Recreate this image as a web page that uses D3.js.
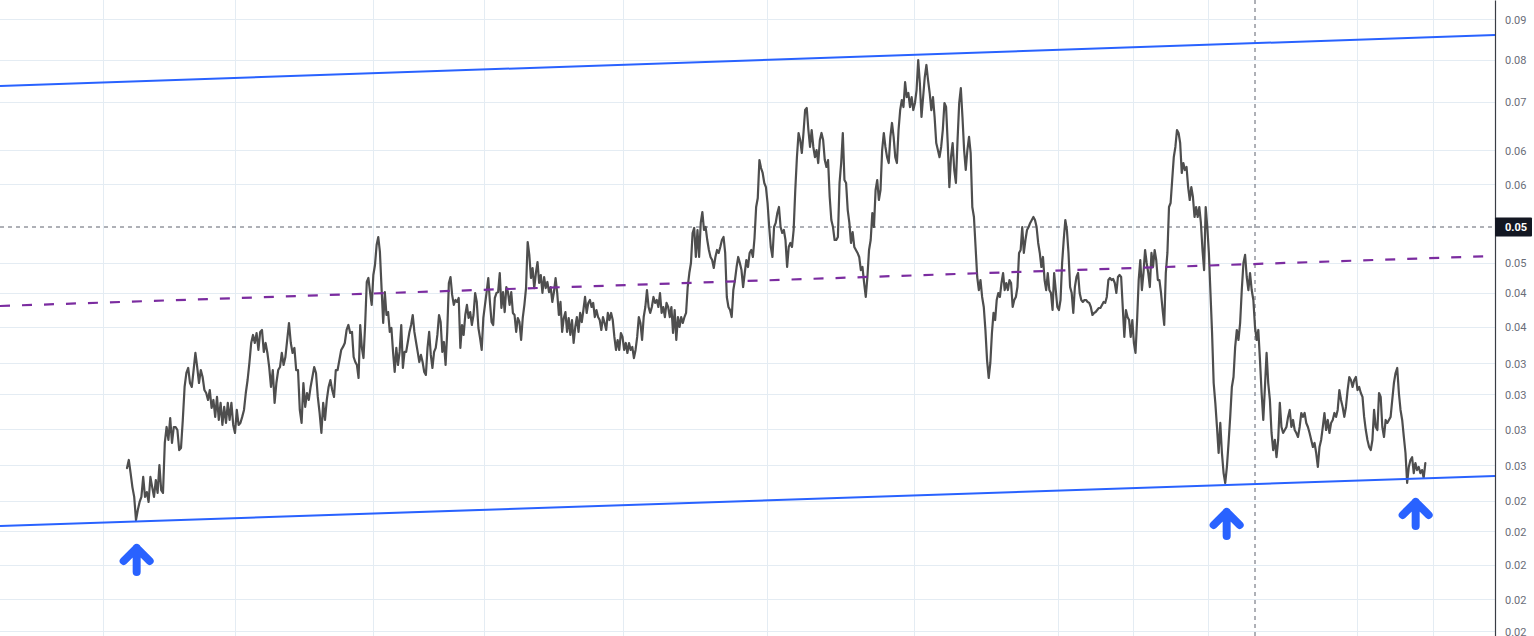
<!DOCTYPE html>
<html><head><meta charset="utf-8">
<script src="https://cdn.jsdelivr.net/npm/d3@7"></script>
<style>html,body{margin:0;padding:0;background:#fff;overflow:hidden}svg{display:block}</style>
</head><body><svg id="c" width="1534" height="636"></svg>
<script>
// ---- price series, split into six periods ----
const prices1 = [0.02583,0.02641,0.02548,0.02452,0.02387,0.02240,0.02303,0.02354,0.02387,0.02521,
0.02387,0.02419,0.02354,0.02521,0.02452,0.02387,0.02500,0.02413,0.02605,0.02432,
0.02413,0.02767,0.02891,0.02790,0.02963,0.02767,0.02891,0.02891,0.02867,0.02714,
0.02729,0.02947,0.03226,0.03352,0.03398,0.03261,0.03226,0.03379,0.03541,0.03407,
0.03261,0.03379,0.03315,0.03199,0.03173,0.03113,0.03199,0.03046,0.03113,0.02972,
0.03139,0.02947,0.03088,0.02907,0.03054,0.02923,0.03088,0.02947,0.03088,0.02907,
0.02844,0.03029,0.02907,0.02923,0.02972,0.03029,0.03173,0.03288,0.03445,0.03639,
0.03720,0.03639,0.03740,0.03570,0.03751,0.03771,0.03551,0.03639,0.03541,0.03407,
0.03226,0.03379,0.03088,0.03261,0.03379,0.03407,0.03541,0.03426,0.03502,0.03669,
0.03844,0.03639,0.03541,0.03590,0.03379,0.03379,0.03029,0.02923,0.03261,0.03054,
0.03173,0.03113,0.03226,0.03315,0.03407,0.03352,0.03139,0.03004,0.02844,0.03088,
0.02947,0.03113,0.03226,0.03288,0.03199,0.03139,0.03379,0.03379,0.03473,0.03570,
0.03600,0.03639,0.03771,0.03823,0.03740];
const prices2 = [0.03751,0.03502,0.03454,0.03426,0.03306,0.03823,0.03590,0.03492,0.03823,0.04301,
0.04348,0.04184,0.04039,0.04384,0.04506,0.04760,0.04865,0.04670,0.04230,0.03844,
0.04184,0.03929,0.03961,0.03751,0.03792,0.03551,0.03361,0.03590,0.03426,0.03551,
0.03823,0.03398,0.03551,0.03551,0.03649,0.03751,0.03823,0.03929,0.03751,0.03649,
0.03551,0.03454,0.03522,0.03454,0.03361,0.03334,0.03590,0.03751,0.03522,0.03398,
0.03551,0.03590,0.03720,0.03929,0.03854,0.03551,0.03649,0.03426,0.03751,0.04289,
0.04360,0.04151,0.04039,0.04094,0.04072,0.04117,0.03590,0.03823,0.03720,0.03929,
0.04039,0.03897,0.03961,0.03823,0.03929,0.04173,0.04072,0.03792,0.03689,0.03570,
0.03897,0.04039,0.04184,0.04348,0.04072,0.03854,0.03823,0.04117,0.04173,0.04184,
0.04408,0.04005,0.04184,0.03961,0.04242,0.04184,0.04039,0.04184,0.03951,0.03929,
0.03751,0.03897,0.03854,0.03669,0.03897,0.04039,0.04230,0.04799,0.04632,0.04348,
0.04469,0.04230,0.04408,0.04543,0.04289,0.04384,0.04173,0.04360,0.04230,0.04301,
0.04184,0.04242,0.04072,0.04184,0.04348,0.04173,0.03929,0.04072,0.03751,0.03897,
0.03961,0.03751,0.03897,0.03720];
const prices3 = [0.03875,0.03639,0.03802,0.03907,0.03751,0.03951,0.03854,0.03983,0.04128,0.03951,
0.04061,0.04094,0.04016,0.04061,0.03907,0.03983,0.03907,0.03875,0.03771,0.03907,
0.03844,0.03771,0.03951,0.03875,0.03951,0.03875,0.03700,0.03570,0.03669,0.03570,
0.03740,0.03700,0.03570,0.03639,0.03541,0.03639,0.03570,0.03600,0.03492,0.03570,
0.03700,0.03907,0.03844,0.03669,0.03907,0.04016,0.04207,0.04016,0.03951,0.04016,
0.04128,0.04061,0.04094,0.04016,0.04173,0.03951,0.04016,0.03907,0.04061,0.04016,
0.03907,0.04016,0.03740,0.03983,0.03669,0.03907,0.03802,0.03907,0.03844,0.03907,
0.03951,0.04242,0.04408,0.04531,0.04919,0.04987,0.04606,0.04959,0.04606,0.05056,
0.05210,0.04959,0.05000,0.04825,0.04695,0.04606,0.04568,0.04469,0.04606,0.04695,
0.04657,0.04734,0.04825,0.04865,0.04657,0.04128,0.04016,0.03983,0.03907,0.04207,
0.04324,0.04481,0.04606,0.04531,0.04444,0.04242,0.04408,0.04568,0.04481,0.04657,
0.04695,0.04606,0.04852,0.05282,0.05414,0.06007,0.05877,0.05798,0.05641,0.05576,
0.05340,0.05000,0.04734,0.04606,0.05000,0.05056,0.05196,0.05282,0.05000,0.04919,
0.04959,0.04825,0.04481,0.04734,0.04786];
const prices4 = [0.04734,0.04959,0.05533,0.06054,0.06469,0.06346,0.06124,0.06469,0.06889,0.06927,
0.06522,0.06226,0.06522,0.06226,0.06054,0.06174,0.05958,0.06346,0.06469,0.06346,
0.06007,0.05894,0.06007,0.05429,0.05097,0.05000,0.04825,0.04825,0.04865,0.05641,
0.05958,0.06469,0.05687,0.05641,0.05238,0.05056,0.04786,0.04932,0.04734,0.04695,
0.04657,0.04606,0.04444,0.04481,0.04289,0.04128,0.04360,0.04695,0.04825,0.05196,
0.05000,0.05533,0.05687,0.05384,0.05533,0.06174,0.06469,0.06226,0.06054,0.05958,
0.06400,0.06649,0.06400,0.06054,0.05958,0.06522,0.06889,0.07080,0.06946,0.07439,
0.07139,0.07218,0.06946,0.07139,0.06889,0.07023,0.07277,0.07901,0.07418,0.06759,
0.07139,0.07541,0.07794,0.07479,0.07218,0.06889,0.07139,0.06759,0.06294,0.06174,
0.06054,0.06226,0.06522,0.07023,0.06946,0.06294,0.05576,0.06054,0.06294,0.05845,
0.05641,0.06346,0.07023,0.07317,0.06759,0.06174,0.05845,0.06174,0.06400,0.06124,
0.05282,0.05139,0.04734,0.04360,0.04207,0.04324,0.04128,0.04016,0.03771,0.03473,0.03306];
const prices5 = [0.03445,0.03740,0.03951,0.03875,0.04094,0.04173,0.04128,0.04289,0.04408,0.04207,
0.04289,0.04207,0.04324,0.04289,0.04016,0.04094,0.04128,0.04242,0.04657,0.04695,
0.05000,0.04657,0.04825,0.04959,0.05000,0.05056,0.05097,0.05139,0.05097,0.05000,
0.04786,0.04657,0.04481,0.04606,0.04324,0.04207,0.04408,0.04207,0.04173,0.03983,
0.04408,0.04207,0.04016,0.03983,0.04094,0.04531,0.04825,0.05097,0.04959,0.04657,
0.04242,0.04173,0.03951,0.04242,0.04360,0.04408,0.04173,0.04094,0.04072,0.04094,
0.04094,0.04072,0.04061,0.04016,0.03929,0.03951,0.03961,0.03983,0.04005,0.04005,
0.04039,0.04072,0.04061,0.04128,0.04324,0.04348,0.04324,0.04336,0.04289,0.04173,
0.04360,0.04384,0.04360,0.04016,0.03700,0.03983,0.03907,0.03875,0.03700,0.03875,
0.03639,0.03541,0.03875,0.04324,0.04568,0.04207,0.04408,0.04695,0.04531,0.04408,
0.04242,0.04657,0.04481,0.04695,0.04568,0.04324,0.04324,0.04173,0.03983,0.03823,
0.04408,0.04657,0.05282,0.05340,0.05687,0.06054,0.06226,0.06522,0.06469,0.06294,
0.05798,0.05958,0.05845,0.05894,0.05576,0.05384,0.05576,0.05429,0.05139,0.05282,
0.05139,0.05282,0.05056,0.04695,0.04444,0.05282,0.05000,0.04657,0.04173,0.03740];
const prices6 = [0.03261,0.03088,0.02891,0.02692,0.02923,0.02692,0.02548,0.02480,0.02591,0.02767,
0.02972,0.03226,0.03315,0.03600,0.03771,0.03669,0.03844,0.04207,0.04531,0.04632,
0.04360,0.04207,0.04408,0.04207,0.04094,0.03802,0.03669,0.03771,0.03473,0.03173,
0.02947,0.03226,0.03541,0.03261,0.03113,0.02844,0.02714,0.02790,0.02661,0.02790,
0.03088,0.02891,0.02844,0.02867,0.02891,0.02972,0.03029,0.02891,0.02947,0.02867,
0.02844,0.02813,0.02891,0.03004,0.02972,0.03004,0.02923,0.02891,0.02844,0.02790,
0.02737,0.02767,0.02692,0.02591,0.02737,0.02790,0.02891,0.03004,0.02867,0.02947,
0.02844,0.02923,0.02947,0.03004,0.02972,0.03029,0.03199,0.03113,0.03054,0.02972,
0.03054,0.03199,0.03315,0.03288,0.03226,0.03288,0.03315,0.03199,0.03226,0.03173,
0.03139,0.02972,0.02867,0.02790,0.02737,0.02714,0.02790,0.03029,0.02891,0.02867,
0.03173,0.03139,0.02891,0.02813,0.02947,0.02923,0.02947,0.02972,0.03113,0.03261,
0.03352,0.03398,0.03173,0.03029,0.02947,0.02813,0.02692,0.02480,0.02591,0.02641,
0.02661,0.02548,0.02619,0.02569,0.02591,0.02548,0.02569,0.02514,0.02619];
// period boundaries in bars (time units)
const periodStart = [0, 135, 267, 399, 518, 652, 779];

// ---- axis ----
const yTickValues = [0.0882,0.0790,0.0704,0.0616,0.0561,0.0453,0.0417,0.0380,0.0344,0.0316,0.0287,0.0260,0.0236,0.0217,0.0198,0.0180,0.0165];
const yTickLabels = ["0.09","0.08","0.07","0.06","0.06","0.05","0.04","0.04","0.03","0.03","0.03","0.03","0.02","0.02","0.02","0.02","0.02"];
const xGridBars = [-14.4, 64.8, 147.6, 214.2, 297.6, 384, 472.2, 558.6, 603.6, 648.6, 738, 783.6];
const xDomain = [-76.2, 820.8];
const yDomain = [0.016306, 0.093127];

// ---- drawings ----
const upperChannel = [[-76.2, 0.07358], [820.8, 0.08461]];
const lowerChannel = [[-76.2, 0.02204], [820.8, 0.02528]];
const midTrend = [[-76.2, 0.04027], [820.8, 0.04619]];
const crosshairBar = 676.8, crosshairPrice = 0.05, crosshairLabel = "0.05";
const arrowTips = [[5.8, 0.02075], [659.8, 0.02290], [773.2, 0.02354]];

// ---- render ----
const W = 1534, H = 636, plotW = 1495;
const svg = d3.select("#c");
const x = d3.scaleLinear().domain(xDomain).range([0, plotW]);
const y = d3.scaleLog().domain(yDomain).range([H, 0]);

svg.append("defs").append("clipPath").attr("id","clip")
  .append("rect").attr("x",0).attr("y",0).attr("width",plotW).attr("height",H);
const plot = svg.append("g").attr("clip-path","url(#clip)");

// grid
plot.append("g").selectAll("line").data(yTickValues).join("line")
  .attr("x1",0).attr("x2",plotW).attr("y1",d=>y(d)).attr("y2",d=>y(d))
  .attr("stroke","#e4ecf3").attr("stroke-width",1).attr("shape-rendering","crispEdges");
plot.append("g").selectAll("line").data(xGridBars).join("line")
  .attr("y1",0).attr("y2",H).attr("x1",d=>x(d)).attr("x2",d=>x(d))
  .attr("stroke","#e4ecf3").attr("stroke-width",1).attr("shape-rendering","crispEdges");

// crosshair
plot.append("line").attr("x1",0).attr("x2",plotW).attr("y1",y(crosshairPrice)).attr("y2",y(crosshairPrice))
  .attr("stroke","#5f636e").attr("stroke-width",1).attr("stroke-dasharray","4,4");
plot.append("line").attr("x1",x(crosshairBar)).attr("x2",x(crosshairBar)).attr("y1",0).attr("y2",H)
  .attr("stroke","#5f636e").attr("stroke-width",1).attr("stroke-dasharray","4,4");

// price series
const periods = [prices1, prices2, prices3, prices4, prices5, prices6];
const pts = [];
periods.forEach((arr, k) => {
  const a = periodStart[k], b = periodStart[k+1];
  const last = k === periods.length - 1;
  const step = last ? (b - a) / (arr.length - 1) : (b - a) / arr.length;
  arr.forEach((v, j) => pts.push([a + j * step, v]));
});
const line = d3.line().x(d=>x(d[0])).y(d=>y(d[1]));
plot.append("path").datum(pts).attr("d", line)
  .attr("fill","none").attr("stroke","#4e4e4e").attr("stroke-width",2.2)
  .attr("stroke-linejoin","round").attr("stroke-linecap","round");

// trend lines
plot.append("path").datum(midTrend).attr("d", line).attr("fill","none")
  .attr("stroke","#7b2ca0").attr("stroke-width",2.2).attr("stroke-dasharray","10,12");
[upperChannel, lowerChannel].forEach(c => plot.append("path").datum(c).attr("d", line)
  .attr("fill","none").attr("stroke","#2962ff").attr("stroke-width",2));

// arrows
plot.append("g").selectAll("path").data(arrowTips).join("path")
  .attr("d", d => { const tx = x(d[0]), ty = y(d[1]);
    return `M${tx-13},${ty+13}L${tx},${ty}L${tx+13},${ty+13}M${tx},${ty}L${tx},${ty+24}`; })
  .attr("fill","none").attr("stroke","#2962ff").attr("stroke-width",8)
  .attr("stroke-linecap","round").attr("stroke-linejoin","round");

// right axis
const axis = d3.axisRight(y).tickValues(yTickValues).tickFormat((d,i)=>yTickLabels[i])
  .tickSize(0).tickSizeOuter(0).tickPadding(10);
const gAxis = svg.append("g").attr("transform",`translate(${plotW},0)`).call(axis);
gAxis.select(".domain").attr("stroke","#3a3d45").attr("stroke-width",1.2);
gAxis.selectAll("text").attr("fill","#6a6d78").attr("font-family","Roboto, sans-serif").attr("font-size",11);

// crosshair price label
const lg = svg.append("g");
lg.append("rect").attr("x",plotW).attr("y",y(crosshairPrice)-9.5).attr("width",37).attr("height",19)
  .attr("fill","#131722").attr("rx",1);
lg.append("text").attr("x",plotW+10).attr("y",y(crosshairPrice)).attr("dy","0.35em")
  .attr("fill","#fff").attr("font-family","Roboto, sans-serif").attr("font-size",11).attr("font-weight","bold")
  .text(crosshairLabel);
</script>
</body></html>
